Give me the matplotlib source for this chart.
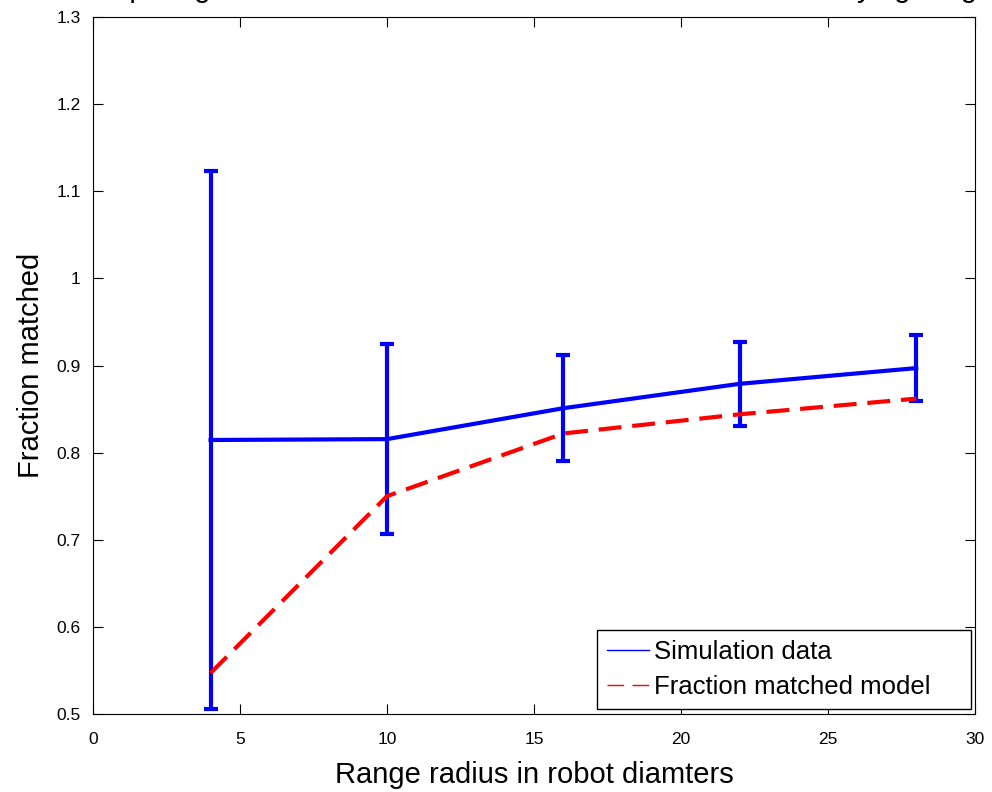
import matplotlib.pyplot as plt
from matplotlib.lines import Line2D

plt.rcParams['font.family'] = ['Liberation Sans', 'DejaVu Sans']

# Range radius (robot diameters)
radius = [4, 10, 16, 22, 28]
# Simulation data: mean fraction matched and error bar half-width
sim_mean = [0.8145, 0.8155, 0.851, 0.879, 0.897]
sim_err = [0.309, 0.109, 0.061, 0.048, 0.038]
# Fraction matched model
model = [0.547, 0.750, 0.822, 0.844, 0.862]

fig = plt.figure(figsize=(9.92, 7.92), dpi=100)
ax = fig.add_axes([93 / 992, 1 - 714 / 792, 882 / 992, 697 / 792])

ax.errorbar(radius, sim_mean, yerr=sim_err, color='blue', linewidth=3,
            capsize=5, capthick=3, elinewidth=3)
ax.plot(radius, model, color='red', linewidth=3, linestyle=(0, (5.5, 2.6)))

ax.set_xlim(0, 30)
ax.set_ylim(0.5, 1.3)
ax.set_xticks([0, 5, 10, 15, 20, 25, 30])
ax.set_yticks([0.5, 0.6, 0.7, 0.8, 0.9, 1.0, 1.1, 1.2, 1.3])
ax.set_yticklabels(['0.5', '0.6', '0.7', '0.8', '0.9', '1', '1.1', '1.2', '1.3'])
ax.tick_params(direction='in', top=True, right=True, labelsize=12.5, length=7)
ax.tick_params(axis='x', pad=13)
ax.tick_params(axis='y', pad=9)
ax.set_xlabel('Range radius in robot diamters', fontsize=21, labelpad=10)
ax.set_ylabel('Fraction matched', fontsize=21, labelpad=8)

# Title sits mostly above the top edge, as in the original export
fig.text(0.535, 1.004, 'Comparing fraction matched in simulation and model with varying range',
         ha='center', va='baseline', fontsize=21)

handles = [Line2D([], [], color='blue', linewidth=1),
           Line2D([], [], color='red', linewidth=1, linestyle=(0, (12, 6)))]
leg = ax.legend(handles, ['Simulation data', 'Fraction matched model'],
                loc='lower left', bbox_to_anchor=(0.5714, 0.0072, 0.424, 0.116),
                mode='expand', borderaxespad=0, fontsize=18.5, fancybox=False,
                framealpha=1, edgecolor='black', handlelength=1.63,
                handletextpad=0.2, labelspacing=0.4, borderpad=0.4)
leg.get_frame().set_linewidth(1)

fig.savefig('out.png', dpi=100)
